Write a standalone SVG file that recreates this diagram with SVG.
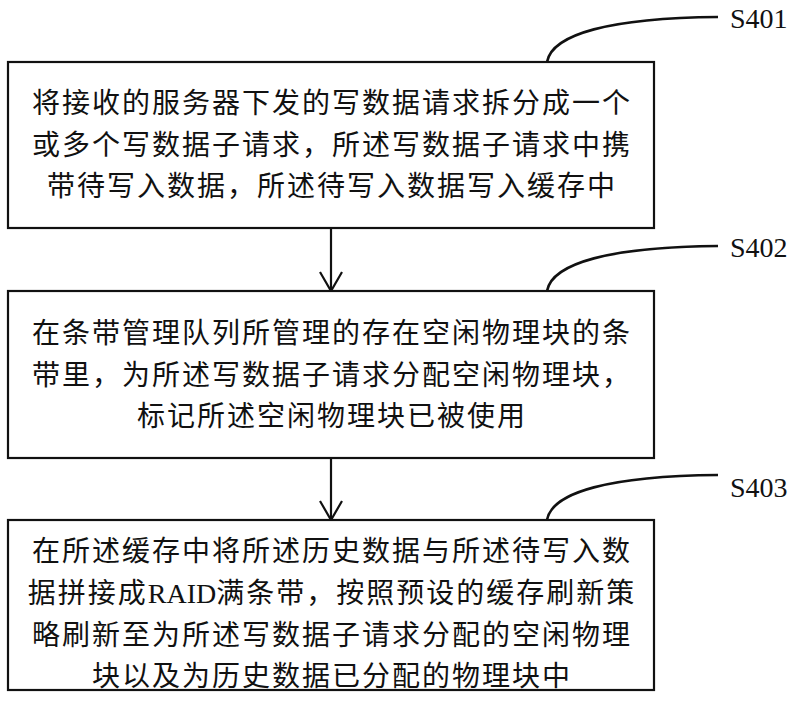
<svg xmlns="http://www.w3.org/2000/svg" width="800" height="704" viewBox="0 0 800 704">
<style>
.box{fill:#fff;stroke:#111;stroke-width:2.2}
.t{font-family:"Noto Sans CJK SC","Noto Sans",sans-serif;font-size:28px;fill:#111;text-anchor:middle;letter-spacing:2px}
.lbl{font-family:"Liberation Serif",serif;font-size:28px;fill:#111}
.c{fill:none;stroke:#111;stroke-width:2.2}
.lead{fill:none;stroke:#111;stroke-width:2.6}
.ser{font-family:"Liberation Serif",serif;font-weight:normal}
</style>
<rect width="800" height="704" fill="#fff"/>
<g id="connectors">
<line class="c" x1="331" y1="228" x2="331" y2="290"/>
<line class="c" x1="331" y1="458" x2="331" y2="519"/>
<path d="M320,272 L331,291 L342,272" class="c"/>
<path d="M320,501 L331,520 L342,501" class="c"/>
<path class="lead" d="M547,62 C552,34 610,18 718,17"/>
<path class="lead" d="M547,291 C552,263 610,247 718,246"/>
<path class="lead" d="M547,520 C552,492 610,476 718,475"/>
</g>
<g id="S401">
<rect class="box" x="8" y="62" width="646" height="166"/>
<text class="t" x="332" y="113">将接收的服务器下发的写数据请求拆分成一个</text>
<text class="t" x="332" y="155">或多个写数据子请求，所述写数据子请求中携</text>
<text class="t" x="332" y="196">带待写入数据，所述待写入数据写入缓存中</text>
<text class="lbl" x="730" y="28">S401</text>
</g>
<g id="S402">
<rect class="box" x="8" y="291" width="646" height="167"/>
<text class="t" x="332" y="343">在条带管理队列所管理的存在空闲物理块的条</text>
<text class="t" x="332" y="385">带里，为所述写数据子请求分配空闲物理块，</text>
<text class="t" x="332" y="426">标记所述空闲物理块已被使用</text>
<text class="lbl" x="730" y="257">S402</text>
</g>
<g id="S403">
<rect class="box" x="8" y="520" width="646" height="170"/>
<text class="t" x="332" y="561">在所述缓存中将所述历史数据与所述待写入数</text>
<text class="t" x="332" y="603">据拼接成<tspan class="ser" letter-spacing="0">RAID</tspan>满条带，按照预设的缓存刷新策</text>
<text class="t" x="332" y="645">略刷新至为所述写数据子请求分配的空闲物理</text>
<text class="t" x="332" y="686">块以及为历史数据已分配的物理块中</text>
<text class="lbl" x="730" y="497">S403</text>
</g>
</svg>
